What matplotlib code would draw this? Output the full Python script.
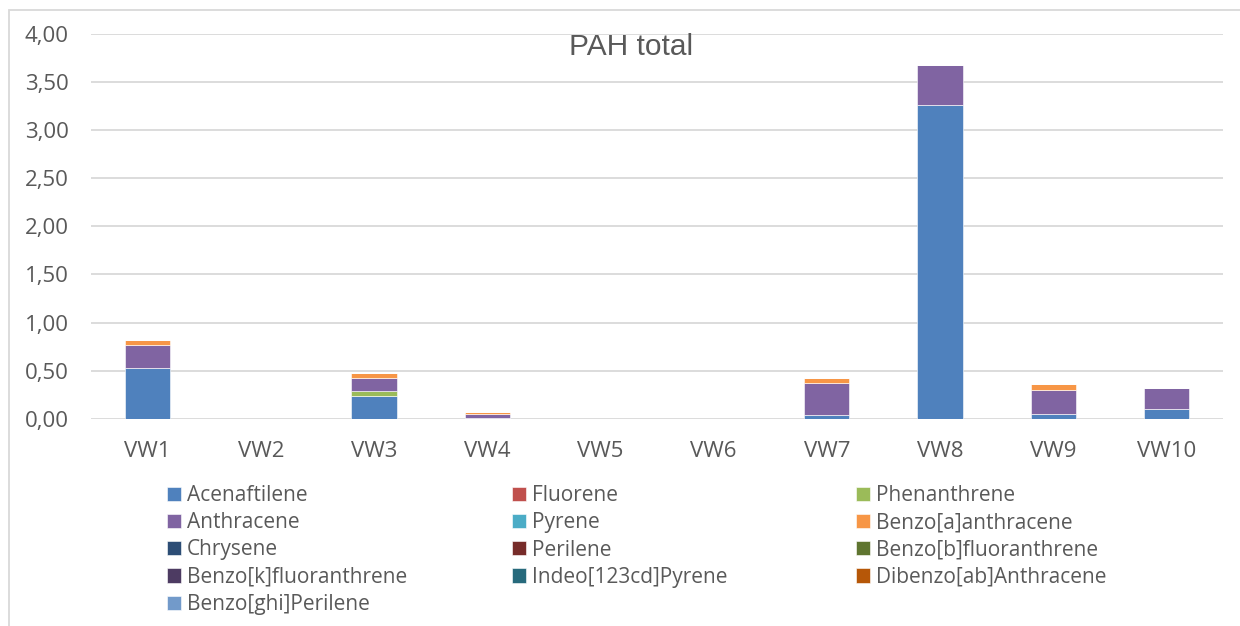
import numpy as np
import matplotlib.pyplot as plt
from matplotlib.patches import Rectangle
from matplotlib.ticker import FuncFormatter

plt.rcParams['font.family'] = ['Open Sans', 'DejaVu Sans']

sites = ['VW1', 'VW2', 'VW3', 'VW4', 'VW5', 'VW6', 'VW7', 'VW8', 'VW9', 'VW10']

compounds = ['Acenaftilene', 'Fluorene', 'Phenanthrene', 'Anthracene', 'Pyrene',
             'Benzo[a]anthracene', 'Chrysene', 'Perilene', 'Benzo[b]fluoranthrene',
             'Benzo[k]fluoranthrene', 'Indeo[123cd]Pyrene', 'Dibenzo[ab]Anthracene',
             'Benzo[ghi]Perilene']

colors = ['#4F81BD', '#C0504D', '#9BBB59', '#8064A2', '#4BACC6', '#F79646',
          '#2C4D75', '#772C2A', '#5F7530', '#4D3B62', '#276A7C', '#B65708', '#729ACA']

acenaftilene = [0.53, 0, 0.24, 0.01, 0, 0, 0.04, 3.26, 0.05, 0.10]
fluorene = [0] * 10
phenanthrene = [0, 0, 0.05, 0, 0, 0, 0, 0, 0, 0]
anthracene = [0.24, 0, 0.13, 0.04, 0, 0, 0.33, 0.42, 0.25, 0.22]
pyrene = [0] * 10
benzo_a_anthracene = [0.05, 0, 0.06, 0.02, 0, 0, 0.05, 0, 0.06, 0]
chrysene = [0] * 10
perilene = [0] * 10
benzo_b = [0] * 10
benzo_k = [0] * 10
indeo = [0] * 10
dibenzo = [0] * 10
benzo_ghi = [0] * 10

series = [acenaftilene, fluorene, phenanthrene, anthracene, pyrene, benzo_a_anthracene,
          chrysene, perilene, benzo_b, benzo_k, indeo, dibenzo, benzo_ghi]

fig = plt.figure(figsize=(12.4, 6.26), dpi=100)
ax = fig.add_axes([91 / 1240, 1 - 418.7 / 626, (1223 - 91) / 1240, (418.7 - 34) / 626])

x = np.arange(len(sites))
bottom = np.zeros(len(sites))
handles = []
for name, vals, c in zip(compounds, series, colors):
    vals = np.array(vals)
    b = ax.bar(x, vals, 0.4, bottom=bottom, color=c, label=name,
               edgecolor='white', linewidth=0.4, zorder=3)
    handles.append(b)
    bottom += vals

ax.set_xlim(-0.5, len(sites) - 0.5)
ax.set_ylim(0, 4)
ax.set_yticks(np.arange(0, 4.01, 0.5))
ax.yaxis.set_major_formatter(FuncFormatter(lambda v, p: f'{v:.2f}'.replace('.', ',')))
ax.set_xticks(x)
ax.set_xticklabels(sites)
ax.grid(axis='y', color='#D9D9D9', linewidth=1.3, zorder=0)
for s in ax.spines.values():
    s.set_visible(False)
ax.tick_params(length=0, labelsize=16, colors='#595959')
ax.tick_params(axis='x', pad=16)
ax.tick_params(axis='y', pad=16)

fig.text(631 / 1240, 1 - 47 / 626, 'PAH total', ha='center', va='center',
         fontsize=21.5, color='#595959', family=['Liberation Sans', 'DejaVu Sans'])

# legend laid out row-wise like Excel: three columns
col_x = [167, 512, 856]
for col in range(3):
    idx = list(range(col, len(compounds), 3))
    leg = fig.legend([handles[i] for i in idx], [compounds[i] for i in idx],
                     loc='upper left', bbox_to_anchor=(col_x[col] / 1240, 1 - 485 / 626),
                     frameon=False, fontsize=15, labelcolor='#595959',
                     handlelength=0.67, handleheight=0.67, handletextpad=0.27,
                     labelspacing=0.3, borderpad=0, borderaxespad=0)

fig.patches.append(Rectangle((9 / 1240, -0.1), 1.2, 1 - 10 / 626 + 0.1,
                             transform=fig.transFigure, fill=False,
                             edgecolor='#D9D9D9', linewidth=1.3))

fig.savefig('out.png', dpi=100)
